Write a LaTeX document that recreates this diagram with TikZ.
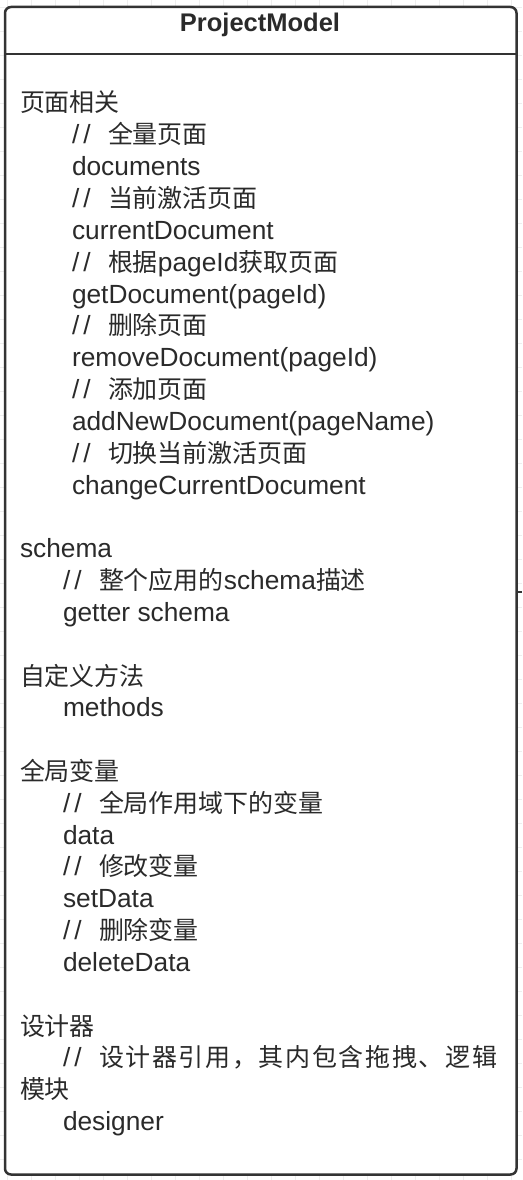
\documentclass[tikz,border=0pt]{standalone}
\usepackage{fontspec}
\setmainfont{Liberation Sans}
\newfontfamily\cjkf{Noto Sans CJK SC}[Scale=0.95]
\newcommand{\zh}[1]{{\cjkf #1}}
\newcommand{\cmt}{\makebox[36pt][l]{/\kern4pt/}}
\definecolor{linec}{HTML}{333333}
\definecolor{textc}{HTML}{2A2A2A}
\definecolor{gridc}{HTML}{EEEEEE}
\begin{document}
\begin{tikzpicture}[x=1pt,y=-1pt,
  txt/.style={anchor=base west, inner sep=0pt, outer sep=0pt, text=textc, font=\fontsize{26.3}{30}\selectfont},
  titletxt/.style={anchor=base, inner sep=0pt, text=textc, font=\fontsize{25.5}{30}\selectfont\bfseries},
  boxline/.style={draw=linec, line width=2.5pt}]
\useasboundingbox (0,0) rectangle (522,1180);
% faint grid
\foreach \gx in {7,31,...,522} \draw[gridc, line width=0.8pt] (\gx,0) -- (\gx,1180);
\foreach \gy in {7,31,...,1180} \draw[gridc, line width=0.8pt] (0,\gy) -- (522,\gy);
% class box
\draw[boxline, fill=white, rounded corners=6pt] (5,7) rectangle (516.5,1174.5);
\coordinate (sepL) at (5,54);
\coordinate (sepR) at (516.5,54);
\draw[boxline] (sepL) -- (sepR);
\coordinate (tickA) at (516.5,592);
\coordinate (tickB) at (522,592);
\draw[boxline] (tickA) -- (tickB);
\node[titletxt] (title) at (260,32) {ProjectModel};
% lines: baseline = 112 + 31.83*i
\node[txt] (l0)  at (20,112.0) {\zh{页面相关}};
\node[txt] (l1)  at (72,143.8) {\cmt\zh{全量页面}};
\node[txt] (l2)  at (72,175.7) {documents};
\node[txt] (l3)  at (72,207.5) {\cmt\zh{当前激活页面}};
\node[txt] (l4)  at (72,239.3) {currentDocument};
\node[txt] (l5)  at (72,271.2) {\cmt\zh{根据}pageId\zh{获取页面}};
\node[txt] (l6)  at (72,303.0) {getDocument(pageId)};
\node[txt] (l7)  at (72,334.8) {\cmt\zh{删除页面}};
\node[txt] (l8)  at (72,366.6) {removeDocument(pageId)};
\node[txt] (l9)  at (72,398.5) {\cmt\zh{添加页面}};
\node[txt] (l10) at (72,430.3) {addNewDocument(pageName)};
\node[txt] (l11) at (72,462.1) {\cmt\zh{切换当前激活页面}};
\node[txt] (l12) at (72,494.0) {changeCurrentDocument};
\node[txt] (l14) at (20,557.6) {schema};
\node[txt] (l15) at (63,589.5) {\cmt\zh{整个应用的}schema\zh{描述}};
\node[txt] (l16) at (63,621.3) {getter schema};
\node[txt] (l18) at (20,685.0) {\zh{自定义方法}};
\node[txt] (l19) at (63,716.8) {methods};
\node[txt] (l21) at (20,780.4) {\zh{全局变量}};
\node[txt] (l22) at (63,812.3) {\cmt\zh{全局作用域下的变量}};
\node[txt] (l23) at (63,844.1) {data};
\node[txt] (l24) at (63,875.9) {\cmt\zh{修改变量}};
\node[txt] (l25) at (63,907.8) {setData};
\node[txt] (l26) at (63,939.6) {\cmt\zh{删除变量}};
\node[txt] (l27) at (63,971.4) {deleteData};
\node[txt] (l29) at (20,1035.1) {\zh{设计器}};
\node[txt] (l30) at (63,1066.9) {\cmt{\cjkf\makebox[398pt][s]{设\hfill 计\hfill 器\hfill 引\hfill 用\hfill ，\hfill 其\hfill 内\hfill 包\hfill 含\hfill 拖\hfill 拽\hfill 、\hfill 逻\hfill 辑}}};
\node[txt] (l31) at (20,1098.7) {\zh{模块}};
\node[txt] (l32) at (63,1130.6) {designer};
\end{tikzpicture}
\end{document}
